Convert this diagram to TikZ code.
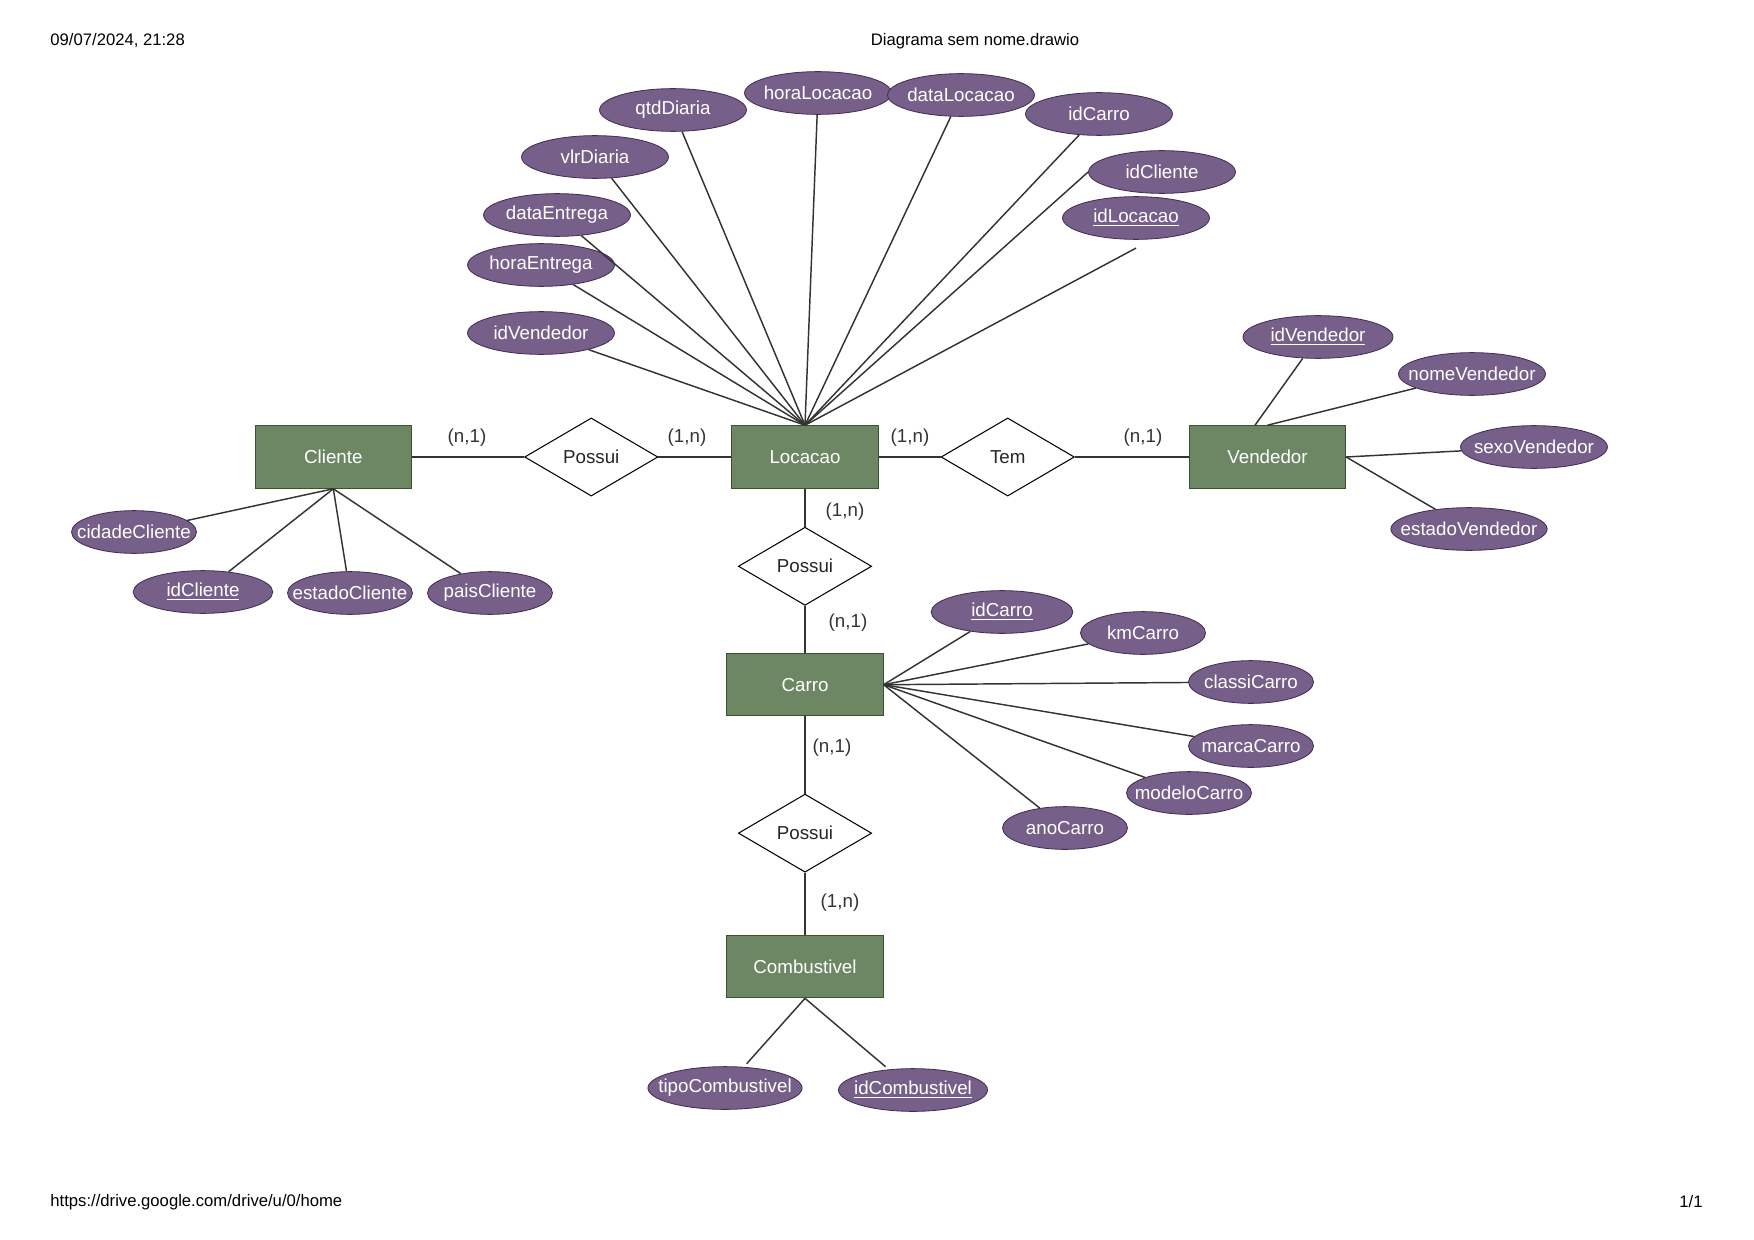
\documentclass[tikz,border=0pt]{standalone}
\usepackage{fontspec}
\setmainfont{Liberation Sans}
\usetikzlibrary{positioning,shapes.geometric}
\definecolor{EntityFill}{HTML}{6D8764}
\definecolor{EntityDraw}{HTML}{3A5431}
\definecolor{AttrFill}{HTML}{76608A}
\definecolor{AttrDraw}{HTML}{432D57}
\definecolor{LineGray}{HTML}{333333}
\newcommand{\att}[1]{\makebox[0pt]{#1}}
\newcommand{\pk}[1]{\makebox[0pt]{\underline{#1}}}
\tikzset{
  ebox/.style={draw=EntityDraw,fill=EntityFill,minimum width=75pt,minimum height=30pt,
               text=white,font=\fontsize{9}{11}\selectfont,line width=0.5pt},
  rel/.style={draw=black,fill=white,diamond,minimum width=64pt,minimum height=37.5pt,
              inner sep=0pt,text=black!85,font=\fontsize{9}{11}\selectfont,line width=0.5pt},
  attr/.style={draw=AttrDraw,fill=AttrFill,ellipse,minimum width=70.5pt,minimum height=20.5pt,
               inner sep=0pt,text=white,font=\fontsize{9}{11}\selectfont,line width=0.4pt},
  sattr/.style={attr,minimum width=60pt},
  card/.style={text=black!80,font=\fontsize{9}{11}\selectfont},
  lnk/.style={draw=LineGray,line width=0.7pt},
  hdr/.style={inner sep=0pt,font=\fontsize{8}{10}\selectfont},
}
\begin{document}
\begin{tikzpicture}[x=0.48pt,y=-0.48pt]
  \useasboundingbox (0,0) rectangle (1754,1240);
  % page header and footer
  \node[hdr,anchor=west] (date) at (50,41) {09/07/2024, 21:28};
  \node[hdr] (title) at (975,41) {Diagrama sem nome.drawio};
  \node[hdr,anchor=west] (url) at (50,1202) {https://drive.google.com/drive/u/0/home};
  \node[hdr,anchor=east] (pg) at (1703,1202) {1/1};

  % entities and relationships
  \node[ebox,minimum width=71pt] (loc) at (805,457) {Locacao};
  \node[rel,left=34.6pt of loc] (pos1) {Possui};
  \node[ebox,left=53.8pt of pos1] (cli) {Cliente};
  \node[rel,right=29.3pt of loc] (tem) {Tem};
  \node[ebox,right=54.7pt of tem] (vend) {Vendedor};
  \node[rel,below=18.2pt of loc] (pos2) {Possui};
  \node[ebox,below=22.6pt of pos2] (car) {Carro};
  \node[rel,below=37pt of car] (pos3) {Possui};
  \node[ebox,below=29.8pt of pos3] (comb) {Combustivel};

  \draw[lnk] (cli) -- (pos1) -- (loc);
  \draw[lnk] (loc) -- (tem) -- (vend);
  \draw[lnk] (loc) -- (pos2) -- (car);
  \draw[lnk] (car) -- (pos3) -- (comb);

  % cardinalities
  \node[card] (c1) at (467,438) {(n,1)};
  \node[card] (c2) at (687,438) {(1,n)};
  \node[card] (c3) at (910,438) {(1,n)};
  \node[card] (c4) at (1143,438) {(n,1)};
  \node[card] (c5) at (845,512) {(1,n)};
  \node[card] (c6) at (848,623) {(n,1)};
  \node[card] (c7) at (832,748) {(n,1)};
  \node[card] (c8) at (840,903) {(1,n)};

  % Locacao attributes
  \node[attr] (qtdDiaria) at (673,110) {\att{qtdDiaria}};
  \node[attr] (horaLocacao) at (818,93) {\att{horaLocacao}};
  \node[attr] (dataLocacao) at (961,95) {\att{dataLocacao}};
  \node[attr] (lidCarro) at (1099,114) {\att{idCarro}};
  \node[attr] (vlrDiaria) at (595,157) {\att{vlrDiaria}};
  \node[attr] (lidCliente) at (1162,172) {\att{idCliente}};
  \node[attr] (idLocacao) at (1136,218) {\pk{idLocacao}};
  \node[attr] (dataEntrega) at (557,215) {\att{dataEntrega}};
  \node[attr] (horaEntrega) at (541,265) {\att{horaEntrega}};
  \node[attr] (lidVendedor) at (541,333) {\att{idVendedor}};
  \foreach \a in {lidVendedor,horaEntrega,dataEntrega,vlrDiaria,qtdDiaria,
                  horaLocacao,dataLocacao,lidCarro}
    \draw[lnk] (\a) -- (loc.north);
  \draw[lnk] (lidCliente.west) -- (loc.north);
  \draw[lnk] ([yshift=-4pt]idLocacao.south) -- (loc.north);

  % Cliente attributes
  \node[sattr] (cidadeCliente) at (134,532) {\att{cidadeCliente}};
  \node[attr,minimum width=67pt] (idCliente) at (203,592) {\pk{idCliente}};
  \node[sattr] (estadoCliente) at (350,593) {\att{estadoCliente}};
  \node[sattr] (paisCliente) at (490,593) {\att{paisCliente}};
  \foreach \a in {cidadeCliente,idCliente,estadoCliente,paisCliente}
    \draw[lnk] (cli.south) -- (\a);

  % Vendedor attributes
  \node[attr,minimum width=72pt] (idVendedor) at (1318,337) {\pk{idVendedor}};
  \node[attr] (nomeVendedor) at (1472,374) {\att{nomeVendedor}};
  \node[attr] (sexoVendedor) at (1534,447) {\att{sexoVendedor}};
  \node[attr,minimum width=75pt] (estadoVendedor) at (1469,529) {\att{estadoVendedor}};
  \draw[lnk] ([xshift=-6pt]vend.north) -- (idVendedor);
  \draw[lnk] (vend.north) -- (nomeVendedor);
  \draw[lnk] (vend.east) -- (sexoVendedor);
  \draw[lnk] (vend.east) -- (estadoVendedor);

  % Carro attributes
  \node[attr,minimum width=68pt] (idCarro) at (1002,612) {\pk{idCarro}};
  \node[sattr] (kmCarro) at (1143,633) {\att{kmCarro}};
  \node[sattr] (classiCarro) at (1251,682) {\att{classiCarro}};
  \node[sattr] (marcaCarro) at (1251,746) {\att{marcaCarro}};
  \node[sattr] (modeloCarro) at (1189,793) {\att{modeloCarro}};
  \node[sattr] (anoCarro) at (1065,828) {\att{anoCarro}};
  \foreach \a in {idCarro,kmCarro,classiCarro,marcaCarro,modeloCarro,anoCarro}
    \draw[lnk] (car.east) -- (\a);

  % Combustivel attributes
  \node[attr,minimum width=74pt] (tipoCombustivel) at (725,1088) {\att{tipoCombustivel}};
  \node[attr,minimum width=71.5pt] (idCombustivel) at (913,1090) {\pk{idCombustivel}};
  \draw[lnk,shorten >=2pt] (comb.south) -- (tipoCombustivel);
  \draw[lnk,shorten >=2pt] (comb.south) -- (idCombustivel);
\end{tikzpicture}
\end{document}
